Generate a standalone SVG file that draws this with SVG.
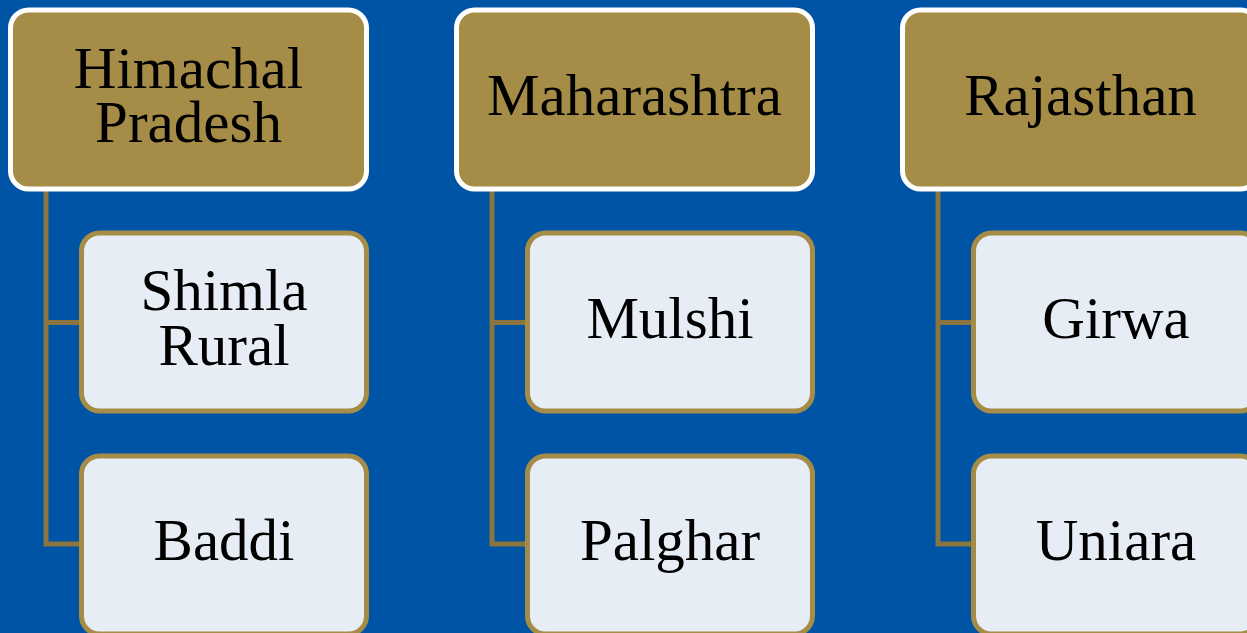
<svg xmlns="http://www.w3.org/2000/svg" width="1247" height="633" viewBox="0 0 1247 633">
<style>
.hdr{fill:#A68D47;stroke:#FFFFFF;stroke-width:5}
.chd{fill:#E6EDF5;stroke:#A68D47;stroke-width:5}
.t{font-family:"Liberation Serif","Times New Roman",serif;font-size:59px;fill:#000;text-anchor:middle}
.c{fill:none;stroke:#8A7540;stroke-width:5}
</style>
<rect width="1247" height="633" fill="#0054A6"/>
<g id="connectors">
<path class="c" d="M46,188 V544 H81 M46,322.5 H81"/>
<path class="c" d="M492,188 V544 H527 M492,322.5 H527"/>
<path class="c" d="M938,188 V544 H973 M938,322.5 H973"/>
</g>
<g id="himachal">
<rect class="hdr" x="10.5" y="10" width="356" height="179" rx="18"/>
<text class="t" x="188.5" y="88">Himachal<tspan x="188.5" dy="54">Pradesh</tspan></text>
</g>
<g id="shimla">
<rect class="chd" x="81.5" y="233" width="285" height="178" rx="18"/>
<text class="t" x="224" y="310">Shimla<tspan x="224" dy="55">Rural</tspan></text>
</g>
<g id="baddi">
<rect class="chd" x="81.5" y="456" width="285" height="178" rx="18"/>
<text class="t" x="224" y="560">Baddi</text>
</g>
<g id="maharashtra">
<rect class="hdr" x="456.5" y="10" width="356" height="179" rx="18"/>
<text class="t" x="634.5" y="115">Maharashtra</text>
</g>
<g id="mulshi">
<rect class="chd" x="527.5" y="233" width="285" height="178" rx="18"/>
<text class="t" x="670" y="338">Mulshi</text>
</g>
<g id="palghar">
<rect class="chd" x="527.5" y="456" width="285" height="178" rx="18"/>
<text class="t" x="670" y="560">Palghar</text>
</g>
<g id="rajasthan">
<rect class="hdr" x="902.5" y="10" width="356" height="179" rx="18"/>
<text class="t" x="1080.5" y="115">Rajasthan</text>
</g>
<g id="girwa">
<rect class="chd" x="973.5" y="233" width="285" height="178" rx="18"/>
<text class="t" x="1116" y="338">Girwa</text>
</g>
<g id="uniara">
<rect class="chd" x="973.5" y="456" width="285" height="178" rx="18"/>
<text class="t" x="1116" y="560">Uniara</text>
</g>
</svg>
